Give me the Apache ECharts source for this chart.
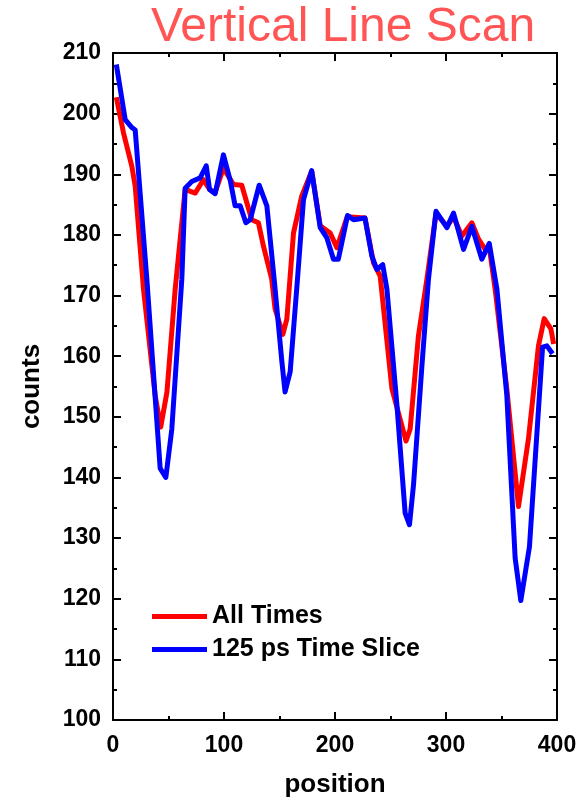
<!DOCTYPE html>
<html><head><meta charset="utf-8">
<script src="https://cdn.jsdelivr.net/npm/echarts@6/dist/echarts.min.js"></script>
<style>html,body{margin:0;padding:0;background:#fff}#c{width:580px;height:803px}</style>
</head><body><div id="c"></div>
<script>
const titleText = 'Vertical Line Scan';
const xName = 'position';
const yName = 'counts';
const seriesNames = ['All Times', '125 ps Time Slice'];

const allTimesX = [3, 9.5, 17, 20, 27.5, 38, 43, 48.6, 56, 65, 74, 81.5, 87, 92, 99.5, 108.6, 116, 125, 131, 135.6, 143, 146, 153, 156.6, 162.6, 170, 179, 186.7, 195.7, 201.7, 211, 227, 234.7, 240.7, 251.3, 264, 267.7, 275.2, 282.8, 291, 300.8, 306.8, 314.3, 323.3, 329.3, 335.3, 339, 344.3, 354.8, 365.3, 374.3, 383.3, 388.5, 394.5, 397];
const allTimesY = [202.7, 196.8, 191.3, 188, 171, 153.5, 148.3, 154.1, 171, 187.5, 186.9, 189.1, 187.5, 187, 191, 188.3, 188.2, 182.5, 182, 178.1, 172.7, 167.8, 163.6, 166.1, 180.3, 186.4, 190.5, 181.5, 180.3, 177.9, 183, 182.8, 175.4, 173.2, 154.6, 146, 148, 163.4, 172.7, 183.6, 181.4, 183, 179.8, 182, 179.3, 177.6, 178, 171, 154.6, 135.2, 146.4, 161.7, 166.2, 164.5, 162];

const sliceX = [3, 11, 17, 20, 30.5, 42.5, 47.6, 53, 62, 65, 71, 78.5, 84, 87, 92, 99.5, 105.6, 110, 114.6, 119.7, 123.6, 131.7, 138.6, 145.2, 152.2, 155, 159.6, 166.2, 171.6, 179, 186.7, 192.7, 198.6, 203, 211.3, 216.7, 227, 233.2, 237.7, 243, 246.8, 255.8, 263.2, 267.1, 270.7, 278.3, 284.2, 291, 300.8, 306.8, 315.8, 323.3, 332.3, 339, 345.9, 354.8, 362.3, 367.4, 375.2, 387, 390.9, 396];
const sliceY = [208.1, 199, 197.7, 197.3, 172.7, 141.5, 140, 148, 172.7, 187.7, 188.8, 189.4, 191.4, 187.5, 186.8, 193.2, 189, 184.8, 184.8, 182, 182.5, 188.2, 184.8, 172.7, 159, 154.1, 157.4, 172.7, 185.8, 190.6, 181.2, 179.5, 176, 176, 183.2, 182.5, 182.8, 176.5, 174.3, 175.1, 171, 151.9, 134.1, 132.2, 138.7, 158.4, 172.7, 183.9, 181.2, 183.6, 177.6, 181.4, 176, 178.6, 171, 153.5, 126.7, 119.7, 128.6, 161.5, 161.7, 160.4];

const xMin = 0, xMax = 400, xStep = 100;
const yMin = 100, yMax = 210, yStep = 10;

const pair = (xs, ys) => xs.map((x, i) => [x, ys[i]]);
const font = '"Liberation Sans", Arial, sans-serif';

const axisCommon = {
  axisLine: { show: true, onZero: false, lineStyle: { color: '#000', width: 2 } },
  axisTick: { show: true, inside: true, length: 8, lineStyle: { color: '#000', width: 2 } },
  minorTick: { show: true, splitNumber: 2, length: 4, lineStyle: { color: '#000', width: 2 } },
  splitLine: { show: false }
};

const chart = echarts.init(document.getElementById('c'), null, { renderer: 'canvas' });
chart.setOption({
  animation: false,
  backgroundColor: '#fff',
  title: {
    text: titleText, left: 338, top: -1, textAlign: 'center',
    textStyle: { color: '#ff5555', fontSize: 48, fontWeight: 'normal', fontFamily: font }
  },
  legend: {
    data: seriesNames, orient: 'vertical', left: 147, top: 599,
    icon: 'rect', itemWidth: 55, itemHeight: 5, itemGap: 8,
    textStyle: { fontSize: 25, fontWeight: 'bold', color: '#000', fontFamily: font }
  },
  grid: { left: 113, right: 23, top: 53, bottom: 80, containLabel: false },
  xAxis: [
    Object.assign({}, axisCommon, {
      type: 'value', min: xMin, max: xMax, interval: xStep, position: 'bottom',
      name: xName, nameLocation: 'middle', nameGap: 52,
      nameTextStyle: { fontSize: 26, fontWeight: 'bold', color: '#000', fontFamily: font },
      axisLabel: { margin: 14, fontSize: 23, fontWeight: 'bold', color: '#000', fontFamily: font }
    }),
    Object.assign({}, axisCommon, {
      type: 'value', min: xMin, max: xMax, interval: xStep, position: 'top',
      axisLabel: { show: false }
    })
  ],
  yAxis: [
    Object.assign({}, axisCommon, {
      type: 'value', min: yMin, max: yMax, interval: yStep, position: 'left',
      name: yName, nameLocation: 'middle', nameGap: 68,
      nameTextStyle: { fontSize: 26, fontWeight: 'bold', color: '#000', fontFamily: font },
      axisLabel: { margin: 12, fontSize: 23, fontWeight: 'bold', color: '#000', fontFamily: font }
    }),
    Object.assign({}, axisCommon, {
      type: 'value', min: yMin, max: yMax, interval: yStep, position: 'right',
      axisLabel: { show: false }
    })
  ],
  series: [
    { name: seriesNames[0], type: 'line', data: pair(allTimesX, allTimesY), showSymbol: false,
      color: '#ff0000', lineStyle: { width: 5, color: '#ff0000', join: 'round' } },
    { name: seriesNames[1], type: 'line', data: pair(sliceX, sliceY), showSymbol: false,
      color: '#0000ff', lineStyle: { width: 5, color: '#0000ff', join: 'round' } }
  ]
});
</script></body></html>
